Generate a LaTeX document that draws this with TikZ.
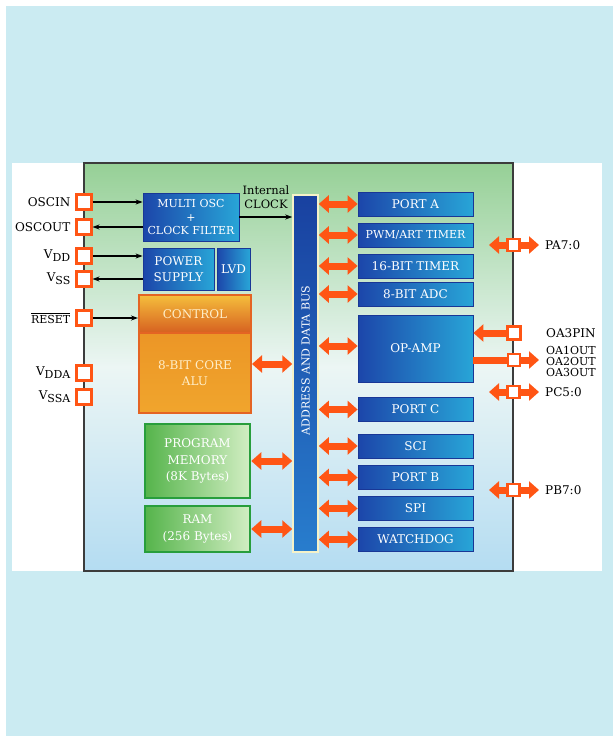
\documentclass[tikz,border=0pt]{standalone}
\usepackage{fontspec}
\setmainfont{DejaVu Serif}
\usepackage{tikz}
\usetikzlibrary{arrows.meta,positioning,calc}
\definecolor{pagebg}{RGB}{203,235,242}
\definecolor{chipedge}{RGB}{60,60,60}
\definecolor{chiptop}{RGB}{150,208,150}
\definecolor{chipmid}{RGB}{236,246,244}
\definecolor{chipbot}{RGB}{180,220,242}
\definecolor{blkedge}{RGB}{25,55,150}
\definecolor{blkdark}{RGB}{28,70,170}
\definecolor{blklight}{RGB}{40,165,215}
\definecolor{portorange}{RGB}{255,85,20}
\definecolor{aluedge}{RGB}{228,100,35}
\definecolor{ctrltop}{RGB}{245,190,60}
\definecolor{ctrlbot}{RGB}{214,96,32}
\definecolor{alutop}{RGB}{236,150,38}
\definecolor{alubot}{RGB}{240,165,45}
\definecolor{alutext}{RGB}{255,238,200}
\definecolor{memedge}{RGB}{40,158,60}
\definecolor{memdark}{RGB}{85,180,75}
\definecolor{memlight}{RGB}{210,238,195}
\definecolor{bustop}{RGB}{25,65,160}
\definecolor{busbot}{RGB}{40,125,205}
\definecolor{busglow}{RGB}{245,242,200}

\begin{document}
\begin{tikzpicture}[x=1pt, y=-1pt,
  bluebox/.style={draw=blkedge, line width=0.8pt, left color=blkdark, right color=blklight, text=white, inner sep=0pt, align=center, minimum width=115pt, minimum height=24pt, font=\fontsize{12}{16}\selectfont},
  orangebox/.style={draw=aluedge, line width=2pt, text=alutext, inner sep=0pt, align=center, minimum width=112pt, font=\fontsize{12}{16}\selectfont},
  greenbox/.style={draw=memedge, line width=2.5pt, left color=memdark, right color=memlight, text=white, inner sep=0pt, align=center, minimum width=105pt, font=\fontsize{12}{16.5}\selectfont},
  pinbox/.style={draw=portorange, line width=3pt, fill=white, minimum size=15pt, inner sep=0pt},
  pinlbl/.style={inner sep=0pt, font=\fontsize{12}{12}\selectfont},
  sig/.style={line width=1.2pt, -{Stealth[length=7pt,width=5pt]}},
  bidir/.style={draw=portorange, line width=7pt, {Triangle[width=17pt,length=10pt]}-{Triangle[width=17pt,length=10pt]}},
  onedir/.style={draw=portorange, line width=7pt, -{Triangle[width=17pt,length=10pt]}}
]
\useasboundingbox (0,0) rectangle (613,736);
\fill[white] (0,0) rectangle (613,736);
\fill[pagebg] (6,6) rectangle (613,736);
\fill[white] (12,163) rectangle (602,571);

% chip outline
\node[draw=chipedge, line width=2pt, top color=chiptop, bottom color=chipbot, middle color=chipmid, minimum width=429pt, minimum height=408pt, inner sep=0pt] (chip) at (298.5,367) {};

% left column
\node[bluebox, minimum width=96pt, minimum height=48pt, font=\fontsize{11}{13.5}\selectfont] (osc) at (191,217) {MULTI OSC\\+\\CLOCK FILTER};
\node[bluebox, minimum width=71pt, minimum height=42pt] (pwr) at (178.5,269) {POWER\\SUPPLY};
\node[bluebox, minimum width=33pt, minimum height=42pt] (lvd) at (233.5,269) {LVD};
\node[orangebox, minimum height=38pt, top color=ctrltop, bottom color=ctrlbot] (ctrl) at (195,314) {CONTROL};
\node[orangebox, minimum height=80pt, top color=alutop, bottom color=alubot] (alu) at (195,373) {8-BIT CORE\\ALU};
\node[greenbox, minimum height=74pt] (prog) at (197.5,461) {PROGRAM\\MEMORY\\(8K Bytes)};
\node[greenbox, minimum height=46pt] (ram) at (197.5,529) {RAM\\(256 Bytes)};

% bus
\node[draw=busglow, line width=1.5pt, top color=bustop, bottom color=busbot, minimum width=25pt, minimum height=357pt, inner sep=0pt] (bus) at (305.5,373.5) {};
\node[rotate=90, text=white, font=\fontsize{11}{11}\selectfont, inner sep=0pt] (buslbl) at ([yshift=13pt]bus.center) {ADDRESS AND DATA BUS};
\node[align=center, inner sep=0pt, font=\fontsize{11.5}{13.5}\selectfont] (clk) at (266,197) {Internal\\CLOCK};

% right column
\node[bluebox] (porta) at (415.5,204) {PORT A};
\node[bluebox, font=\fontsize{11}{16}\selectfont] (pwm) at (415.5,235) {PWM/ART TIMER};
\node[bluebox] (tim16) at (415.5,266) {16-BIT TIMER};
\node[bluebox] (adc) at (415.5,294) {8-BIT ADC};
\node[bluebox, minimum height=67pt] (opamp) at (415.5,348.5) {OP-AMP};
\node[bluebox] (portc) at (415.5,409.5) {PORT C};
\node[bluebox] (sci) at (415.5,446) {SCI};
\node[bluebox] (portb) at (415.5,477.5) {PORT B};
\node[bluebox] (spi) at (415.5,508.5) {SPI};
\node[bluebox] (wdog) at (415.5,539.5) {WATCHDOG};

% bus links
\draw[sig] (osc.east) -- (osc -| bus.west);
\coordinate (aluport) at ([yshift=9pt]alu.east);
\draw[bidir] (aluport) -- (aluport -| bus.west);
\draw[bidir] (prog.east) -- (prog -| bus.west);
\draw[bidir] (ram.east) -- (ram -| bus.west);
\draw[bidir] (bus.east |- porta) -- (porta.west);
\draw[bidir] (bus.east |- pwm) -- (pwm.west);
\draw[bidir] (bus.east |- tim16) -- (tim16.west);
\draw[bidir] (bus.east |- adc) -- (adc.west);
\coordinate (opport) at ([yshift=2.5pt]opamp.west);
\draw[bidir] (bus.east |- opport) -- (opport);
\draw[bidir] (bus.east |- portc) -- (portc.west);
\draw[bidir] (bus.east |- sci) -- (sci.west);
\draw[bidir] (bus.east |- portb) -- (portb.west);
\draw[bidir] (bus.east |- spi) -- (spi.west);
\draw[bidir] (bus.east |- wdog) -- (wdog.west);

% left pins
\node[pinbox] (oscin) at (83.5,202) {};
\node[pinbox] (oscout) at (83.5,227) {};
\node[pinbox] (vdd) at (83.5,256) {};
\node[pinbox] (vss) at (83.5,279) {};
\node[pinbox] (reset) at (83.5,318) {};
\node[pinbox] (vdda) at (83.5,373) {};
\node[pinbox] (vssa) at (83.5,397) {};
\node[pinlbl, left=4pt of oscin] (oscinlbl) {OSCIN};
\node[pinlbl, left=4pt of oscout] (oscoutlbl) {OSCOUT};
\node[pinlbl, left=4pt of vdd] (vddlbl) {V\raisebox{-3pt}{\fontsize{11}{11}\selectfont DD}};
\node[pinlbl, left=4pt of vss] (vsslbl) {V\raisebox{-3pt}{\fontsize{11}{11}\selectfont SS}};
\node[pinlbl, left=4pt of reset, font=\fontsize{11}{11}\selectfont] (resetlbl) {$\overline{\mbox{RESET}}$};
\node[pinlbl, left=4pt of vdda] (vddalbl) {V\raisebox{-3pt}{\fontsize{11}{11}\selectfont DDA}};
\node[pinlbl, left=4pt of vssa] (vssalbl) {V\raisebox{-3pt}{\fontsize{11}{11}\selectfont SSA}};
\draw[sig] (oscin.east) -- (oscin -| osc.west);
\draw[sig] (oscout -| osc.west) -- (oscout.east);
\draw[sig] (vdd.east) -- (vdd -| pwr.west);
\draw[sig] (vss -| pwr.west) -- (vss.east);
\draw[sig] (reset.east) -- (reset -| ctrl.west);

% right pins
\coordinate (paL) at (489,245);
\coordinate (paR) at (539,245);
\draw[bidir] (paL) -- (paR);
\node[pinbox, minimum size=12pt, line width=2.5pt] (pa) at (513.5,245) {};
\node[pinbox, minimum size=13pt, line width=3pt] (oa3in) at (514,333) {};
\draw[onedir] (oa3in.west) -- (oa3in -| opamp.east);
\coordinate (oaR) at (539,360);
\draw[onedir] (opamp.east |- oaR) -- (oaR);
\node[pinbox, minimum size=12pt, line width=2.5pt] (oaout) at (514,360) {};
\coordinate (pcL) at (489,392);
\coordinate (pcR) at (539,392);
\draw[bidir] (pcL) -- (pcR);
\node[pinbox, minimum size=12pt, line width=2.5pt] (pc) at (513.5,392) {};
\coordinate (pbL) at (489,490);
\coordinate (pbR) at (539,490);
\draw[bidir] (pbL) -- (pbR);
\node[pinbox, minimum size=12pt, line width=2.5pt] (pb) at (513.5,490) {};
\node[pinlbl, anchor=west] (palbl) at (545,245) {PA7:0};
\node[pinlbl, anchor=west] (oa3lbl) at (546,333) {OA3PIN};
\node[pinlbl, anchor=west, font=\fontsize{11}{11}\selectfont] (oa1lbl) at (546,350.5) {OA1OUT};
\node[pinlbl, anchor=west, font=\fontsize{11}{11}\selectfont] (oa2lbl) at (546,361.5) {OA2OUT};
\node[pinlbl, anchor=west, font=\fontsize{11}{11}\selectfont] (oa3olbl) at (546,372.5) {OA3OUT};
\node[pinlbl, anchor=west] (pclbl) at (545,392) {PC5:0};
\node[pinlbl, anchor=west] (pblbl) at (545,490) {PB7:0};
\end{tikzpicture}
\end{document}
